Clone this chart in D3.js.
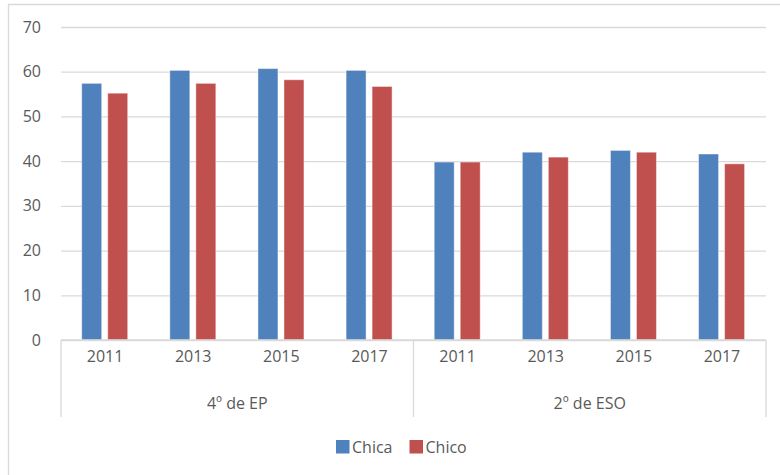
<!DOCTYPE html>
<html>
<head>
<meta charset="utf-8">
<script src="https://cdn.jsdelivr.net/npm/d3@7"></script>
<style>
  html, body { margin: 0; padding: 0; background: #fff; }
  svg { display: block; font-family: "Open Sans", Lato, sans-serif; }
</style>
</head>
<body>
<svg id="chart" width="780" height="475"></svg>
<script>
// ---- data ----
const groups = ["4º de EP", "2º de ESO"];
const years = ["2011", "2013", "2015", "2017"];
const seriesNames = ["Chica", "Chico"];
const chica = [57.4, 60.3, 60.7, 60.3, 39.8, 42.0, 42.4, 41.6];
const chico = [55.2, 57.4, 58.2, 56.7, 39.8, 40.9, 42.0, 39.4];
const yTicks = [0, 10, 20, 30, 40, 50, 60, 70];
const colors = ["#4f81bd", "#c0504d"];

// ---- build ----
(function () {
const FONT = "'Open Sans', sans-serif";
const cats = [];
groups.forEach(g => years.forEach(yr => cats.push({ group: g, year: yr, key: g + "|" + yr })));
const rows = cats.map((c, i) => ({ ...c, values: [chica[i], chico[i]] }));

const svg = d3.select("#chart");
const pLeft = 61, pRight = 766, pTop = 27, pBottom = 340;
const textColor = "#595959", gridColor = "#d9d9d9";

// chart frame (only top/left visible in reference)
svg.append("path")
  .attr("d", `M8.5,475 L8.5,4.5 L780,4.5`)
  .attr("fill", "none").attr("stroke", gridColor).attr("stroke-width", 1.3);

const y = d3.scaleLinear().domain([0, 70]).range([pBottom, pTop]);
const x0 = d3.scaleBand().domain(cats.map(c => c.key)).range([pLeft, pRight]).padding(0);
const bw = x0.bandwidth();
const x1 = d3.scaleBand().domain(seriesNames)
  .range([bw * 0.235, bw * 0.757]).paddingInner(0.231).paddingOuter(0);

// gridlines
const yAxis = d3.axisLeft(y).tickValues(yTicks).tickSize(-(pRight - pLeft)).tickPadding(20);
const gy = svg.append("g").attr("transform", `translate(${pLeft},0)`).call(yAxis);
gy.select(".domain").remove();
gy.selectAll(".tick line").attr("stroke", gridColor).attr("stroke-width", 1.3);
gy.selectAll(".tick text").attr("fill", textColor).attr("font-size", 16)
  .attr("font-family", FONT);

// bars
const cg = svg.append("g").selectAll("g").data(rows).join("g")
  .attr("transform", d => `translate(${x0(d.key)},0)`);
cg.selectAll("rect").data(d => d.values.map((v, i) => ({ s: seriesNames[i], v, i })))
  .join("rect")
  .attr("x", d => x1(d.s))
  .attr("y", d => y(d.v))
  .attr("width", x1.bandwidth())
  .attr("height", d => y(0) - y(d.v))
  .attr("fill", d => colors[d.i])
  .attr("stroke", "#ffffff").attr("stroke-opacity", 0.45).attr("stroke-width", 1);

// category axis line
svg.append("line").attr("x1", pLeft).attr("x2", pRight).attr("y1", pBottom).attr("y2", pBottom)
  .attr("stroke", gridColor).attr("stroke-width", 1.3);

// year labels
const xAxis = d3.axisBottom(x0).tickFormat(k => k.split("|")[1]).tickSize(0).tickPadding(11);
const gx = svg.append("g").attr("transform", `translate(0,${pBottom})`).call(xAxis);
gx.select(".domain").remove();
gx.selectAll(".tick text").attr("fill", textColor).attr("font-size", 16)
  .attr("font-family", FONT);

// group dividers
const groupBounds = groups.map(g => {
  const ks = cats.filter(c => c.group === g).map(c => c.key);
  return { g, a: x0(ks[0]), b: x0(ks[ks.length - 1]) + bw };
});
const divX = [groupBounds[0].a, ...groupBounds.map(b => b.b)];
svg.append("g").selectAll("line").data(divX).join("line")
  .attr("x1", d => d).attr("x2", d => d).attr("y1", pBottom).attr("y2", 417)
  .attr("stroke", gridColor).attr("stroke-width", 1.3);

// group labels
svg.append("g").selectAll("text").data(groupBounds).join("text")
  .attr("x", d => (d.a + d.b) / 2).attr("y", 409)
  .attr("text-anchor", "middle").attr("fill", textColor).attr("font-size", 16)
  .attr("font-family", FONT)
  .text(d => d.g);

// legend
const legendItems = [{ name: seriesNames[0], lx: 336 }, { name: seriesNames[1], lx: 409.5 }];
const lg = svg.append("g").selectAll("g").data(legendItems).join("g")
  .attr("transform", d => `translate(${d.lx},440)`);
lg.append("rect").attr("width", 13.5).attr("height", 13.5)
  .attr("fill", (d, i) => colors[i]);
lg.append("text").attr("x", 16).attr("y", 12.5)
  .attr("fill", textColor).attr("font-size", 16).attr("font-family", FONT).text(d => d.name);
})();
</script>
</body>
</html>
